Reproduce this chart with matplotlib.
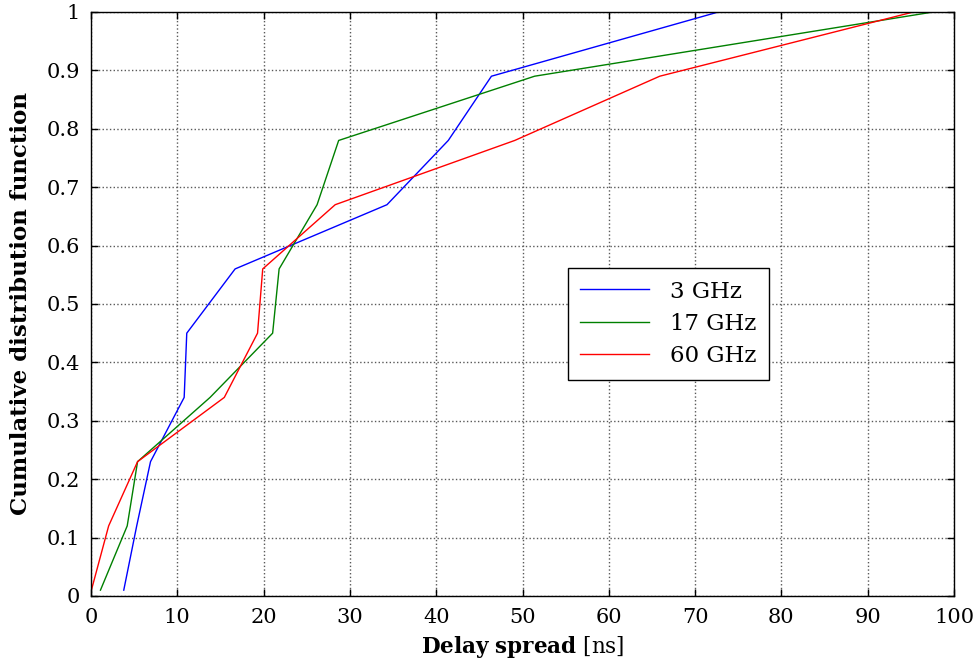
import numpy as np
import matplotlib
matplotlib.use("Agg")
import matplotlib.pyplot as plt

# CDF levels shared by all three curves
cdf = [0.01, 0.12, 0.23, 0.34, 0.45, 0.56, 0.67, 0.78, 0.89, 1.0]

# delay spread values [ns]
ds_3ghz = [3.8, 5.3, 6.9, 10.8, 11.1, 16.7, 34.3, 41.4, 46.4, 72.7]
ds_17ghz = [1.1, 4.2, 5.4, 13.8, 21.05, 21.8, 26.2, 28.7, 51.4, 97.6]
ds_60ghz = [0.05, 2.05, 5.4, 15.45, 19.3, 19.9, 28.3, 49.1, 65.9, 95.3]

labels = ["3 GHz", "17 GHz", "60 GHz"]
colors = [(0, 0, 1), (0, 0.5, 0), (1, 0, 0)]


def main():
    plt.rcParams["font.family"] = ["DejaVu Serif"]
    plt.rcParams["mathtext.fontset"] = "dejavuserif"

    fig = plt.figure(figsize=(9.76, 6.65), dpi=100)
    ax = fig.add_axes([0.0932, 0.1038, 0.8843, 0.8782])

    for xs, lab, c in zip([ds_3ghz, ds_17ghz, ds_60ghz], labels, colors):
        ax.plot(xs, cdf, color=c, linewidth=1.0, label=lab)

    ax.set_xlim(0, 100)
    ax.set_ylim(0, 1)
    ax.set_xticks(np.arange(0, 101, 10))
    ax.set_yticks(np.arange(0, 1.01, 0.1))
    ax.set_yticklabels(["0"] + [f"{v:.1f}" for v in np.arange(0.1, 0.95, 0.1)] + ["1"])

    ax.grid(True, color="0.35", linestyle=":", linewidth=1.0)
    ax.tick_params(direction="in", length=5, width=1, top=True, right=True,
                   labelsize=15)
    ax.tick_params(axis="x", pad=9)
    ax.tick_params(axis="y", pad=8)
    for sp in ax.spines.values():
        sp.set_linewidth(1.0)
        sp.set_color("black")

    ax.set_xlabel(r"$\mathbf{Delay\ spread}$ [ns]", fontsize=15.5, labelpad=5)
    ax.set_ylabel("Cumulative distribution function", fontsize=16.5,
                  fontweight="bold", labelpad=10)

    leg = ax.legend(loc="center", bbox_to_anchor=(0.669, 0.466), fontsize=16.5,
                    frameon=True, fancybox=False, edgecolor="black",
                    handlelength=3.0, handletextpad=0.9, labelspacing=0.45,
                    borderpad=0.55, borderaxespad=0)
    leg.get_frame().set_linewidth(1.0)
    leg.get_frame().set_alpha(1.0)

    fig.savefig("out.png", dpi=100)


if __name__ == "__main__":
    main()
